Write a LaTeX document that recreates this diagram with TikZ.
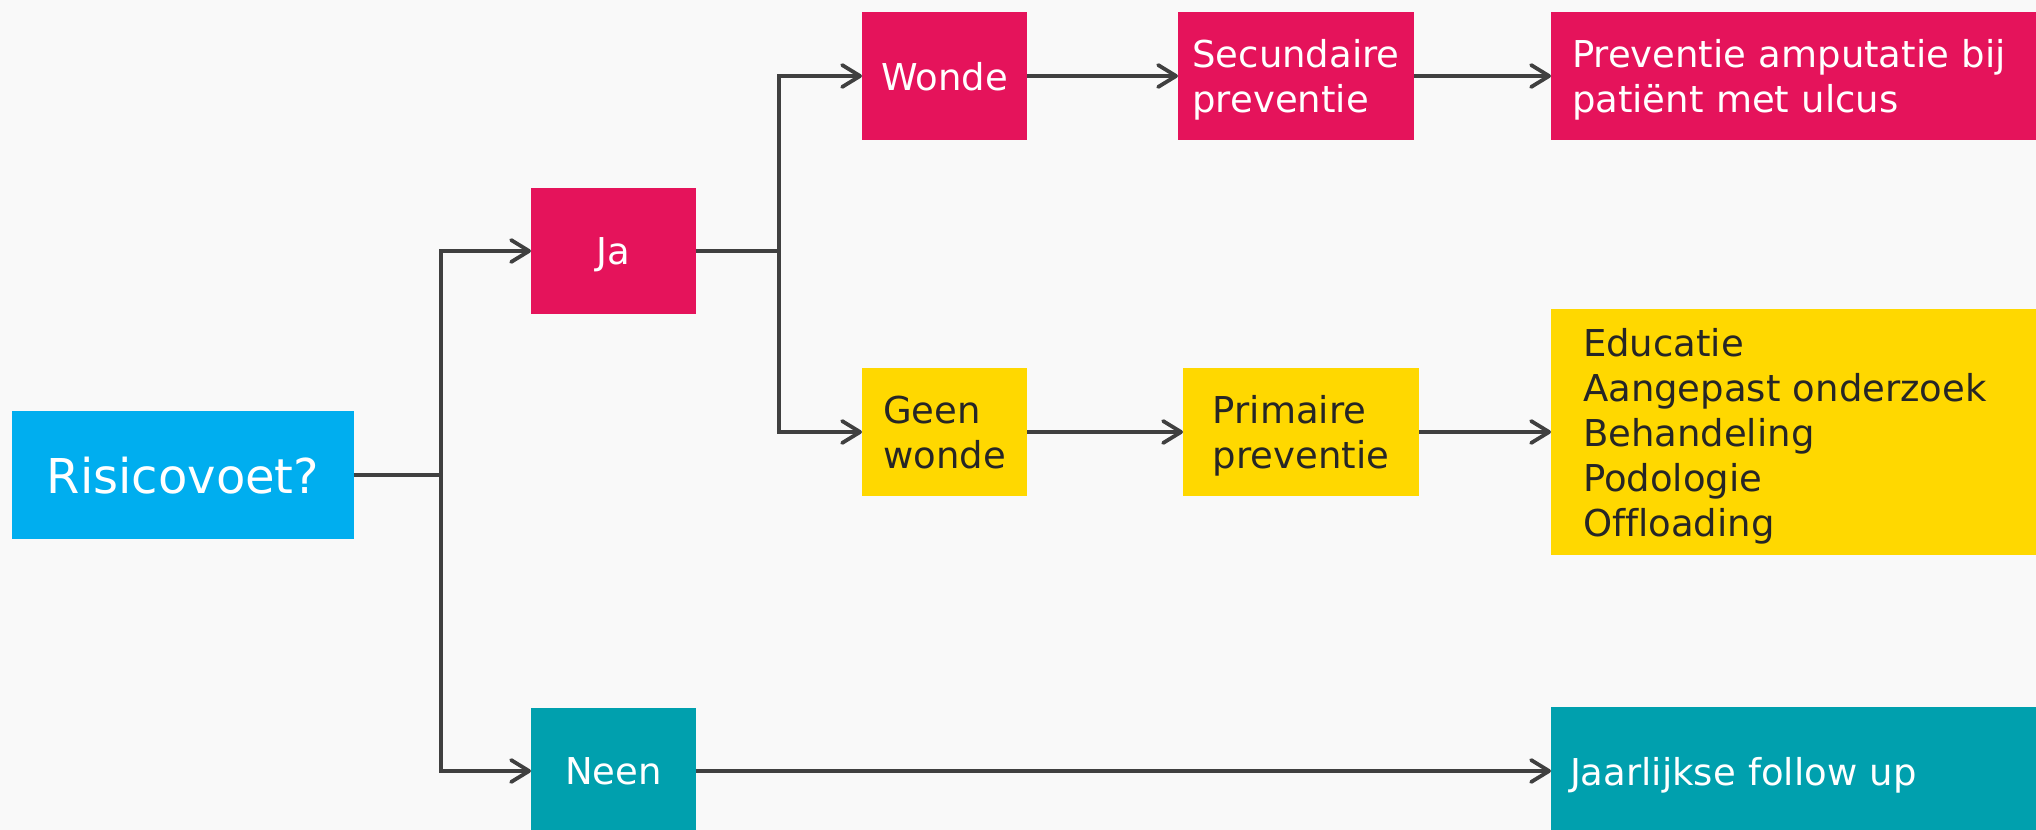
\documentclass[tikz,border=0pt]{standalone}
\usepackage{fontspec}
\setmainfont[Ligatures=NoCommon]{DejaVu Sans}
\usetikzlibrary{arrows.meta}
\definecolor{bg}{HTML}{F9F9F9}
\definecolor{riskblue}{HTML}{00AEEF}
\definecolor{woundred}{HTML}{E5135B}
\definecolor{prevyellow}{HTML}{FFD800}
\definecolor{followteal}{HTML}{00A0AE}
\definecolor{linegray}{HTML}{404040}
\definecolor{darktext}{HTML}{262626}
\begin{document}
\begin{tikzpicture}[x=0.5pt,y=-0.5pt,
  box/.style={anchor=north west, inner sep=0pt, outer sep=0pt, text depth=0pt,
    font=\fontsize{18.5pt}{22.5pt}\selectfont},
  redbox/.style={box, fill=woundred, text=white},
  yelbox/.style={box, fill=prevyellow, text=darktext},
  conn/.style={draw=linegray, line width=1.9pt},
  arr/.style={conn, -{Straight Barb[length=9pt,width=11pt,line width=1.9pt,round]}}]
  % canvas
  \clip (0,0) rectangle (2036,830);
  \fill[bg] (0,0) rectangle (2036,830);

  % question
  \node[box, fill=riskblue, text=white, minimum width=171pt, minimum height=64pt,
        font=\fontsize{24pt}{28pt}\selectfont] (risk) at (12,411) {Risicovoet?};

  % first split
  \node[redbox, minimum width=82.5pt, minimum height=63pt] (ja) at (531,188) {Ja};
  \node[box, fill=followteal, text=white, minimum width=82.5pt, minimum height=63pt] (neen) at (531,708) {Neen};

  % second split
  \node[redbox, minimum width=82.5pt, minimum height=64pt] (wonde) at (862,12) {Wonde};
  \node[yelbox, minimum width=82.5pt, minimum height=64pt, align=left] (geen) at (862,368) {Geen\\wonde};

  % prevention type
  \node[redbox, minimum width=118pt, minimum height=64pt, align=left] (sec) at (1178,12) {Secundaire\\preventie};
  \node[yelbox, minimum width=118pt, minimum height=64pt, align=left] (prim) at (1183,368) {Primaire\\preventie};

  % outcomes (paragraph boxes: depth counts every line below the first)
  \node[redbox, minimum height=64pt, inner xsep=10.5pt, text width=229pt, align=left,
        text depth=22.5pt] (prev) at (1551,12)
    {Preventie amputatie bij\\pati\"ent met ulcus};
  \node[yelbox, minimum height=123pt, inner xsep=16pt, text width=218pt, align=left,
        text depth=90pt] (edu) at (1551,309)
    {Educatie\\Aangepast onderzoek\\Behandeling\\Podologie\\Offloading};
  \node[box, fill=followteal, text=white, minimum height=64pt, inner xsep=9.5pt, text width=231pt, align=left] (jaar) at (1551,707)
    {Jaarlijkse follow up};

  % connectors
  \draw[arr] (risk.east) -- ++(87,0) coordinate (s1) |- (ja.west);
  \draw[arr] (s1) |- (neen.west);
  \draw[arr] (ja.east) -- ++(83,0) coordinate (s2) |- (wonde.west);
  \draw[arr] (s2) |- (geen.west);
  \draw[arr] (wonde.east) -- (sec.west);
  \draw[arr] (sec.east) -- (prev.west);
  \draw[arr] (geen.east) -- (prim.west);
  \draw[arr] (prim.east) -- (edu.west);
  \draw[arr] (neen.east) -- (jaar.west);
\end{tikzpicture}
\end{document}
